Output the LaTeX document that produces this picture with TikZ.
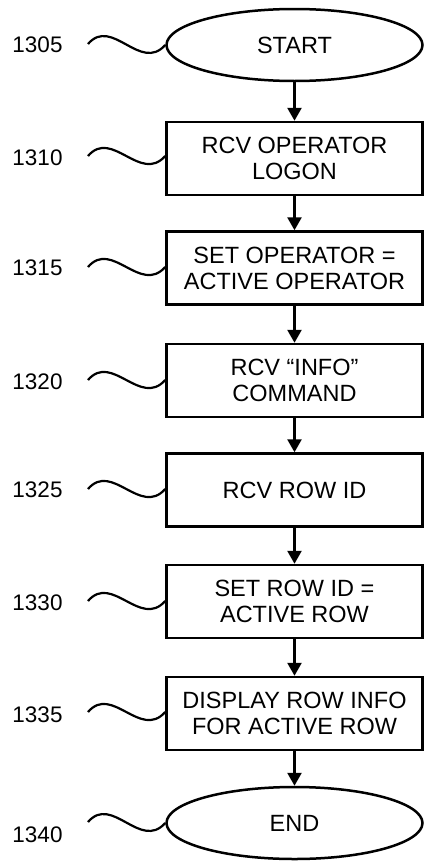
\documentclass[tikz,border=0pt]{standalone}
\usepackage{fontspec}
\setmainfont{Liberation Sans}
\usetikzlibrary{arrows.meta,shapes.geometric}
\begin{document}
\begin{tikzpicture}[x=1pt,y=-1pt,
  txt/.style={font=\fontsize{23.5}{26}\selectfont},
  stepbox/.style={draw, line width=2.5pt, minimum width=256pt, minimum height=73pt,
    align=center, inner sep=0pt, txt},
  term/.style={draw, ellipse, line width=2.5pt, minimum width=256pt, minimum height=72pt,
    inner sep=0pt, txt},
  lbl/.style={font=\fontsize{22.5}{26}\selectfont, anchor=center},
  flow/.style={line width=2.6pt, -{Triangle[width=14pt,length=13pt]}},
  squig/.style={line width=2.2pt}]
\useasboundingbox (0,0) rectangle (425,862);

\node[term]    (s)  at (294.5,45)  {START};
\node[stepbox] (b1) at (294.5,158.5) {RCV OPERATOR\\LOGON};
\node[stepbox] (b2) at (294.5,268) {SET OPERATOR =\\ACTIVE OPERATOR};
\node[stepbox] (b3) at (294.5,380.5) {RCV “INFO”\\COMMAND};
\node[stepbox] (b4) at (294.5,490) {RCV ROW ID};
\node[stepbox] (b5) at (294.5,601.5) {SET ROW ID =\\ACTIVE ROW};
\node[stepbox] (b6) at (294.5,713.5) {DISPLAY ROW INFO\\FOR ACTIVE ROW};
\node[term]    (e)  at (294.5,823) {END};

\draw[flow] (s) -- (b1);
\draw[flow] (b1) -- (b2);
\draw[flow] (b2) -- (b3);
\draw[flow] (b3) -- (b4);
\draw[flow] (b4) -- (b5);
\draw[flow] (b5) -- (b6);
\draw[flow] (b6) -- (e);

\node[lbl] (l1) at (37.5,45)  {1305};
\node[lbl] (l2) at (37.5,158) {1310};
\node[lbl] (l3) at (37.5,268) {1315};
\node[lbl] (l4) at (37.5,382) {1320};
\node[lbl] (l5) at (37.5,490) {1325};
\node[lbl] (l6) at (37.5,603) {1330};
\node[lbl] (l7) at (37.5,715) {1335};
\node[lbl] (l8) at (37.5,835) {1340};

\coordinate (q1) at (88,44);
\coordinate (q2) at (88,156);
\coordinate (q3) at (88,267);
\coordinate (q4) at (88,380);
\coordinate (q5) at (88,489);
\coordinate (q6) at (88,601);
\coordinate (q7) at (88,712);
\coordinate (q8) at (88,822);

\draw[squig] (q1) .. controls ++(24,-28) and ++(-25,28) .. (s.west);
\draw[squig] (q2) .. controls ++(24,-28) and ++(-25,28) .. (b1.west |- q2);
\draw[squig] (q3) .. controls ++(24,-28) and ++(-25,28) .. (b2.west |- q3);
\draw[squig] (q4) .. controls ++(24,-28) and ++(-25,28) .. (b3.west |- q4);
\draw[squig] (q5) .. controls ++(24,-28) and ++(-25,28) .. (b4.west |- q5);
\draw[squig] (q6) .. controls ++(24,-28) and ++(-25,28) .. (b5.west |- q6);
\draw[squig] (q7) .. controls ++(24,-28) and ++(-25,28) .. (b6.west |- q7);
\draw[squig] (q8) .. controls ++(24,-28) and ++(-25,28) .. (e.west);
\end{tikzpicture}
\end{document}
